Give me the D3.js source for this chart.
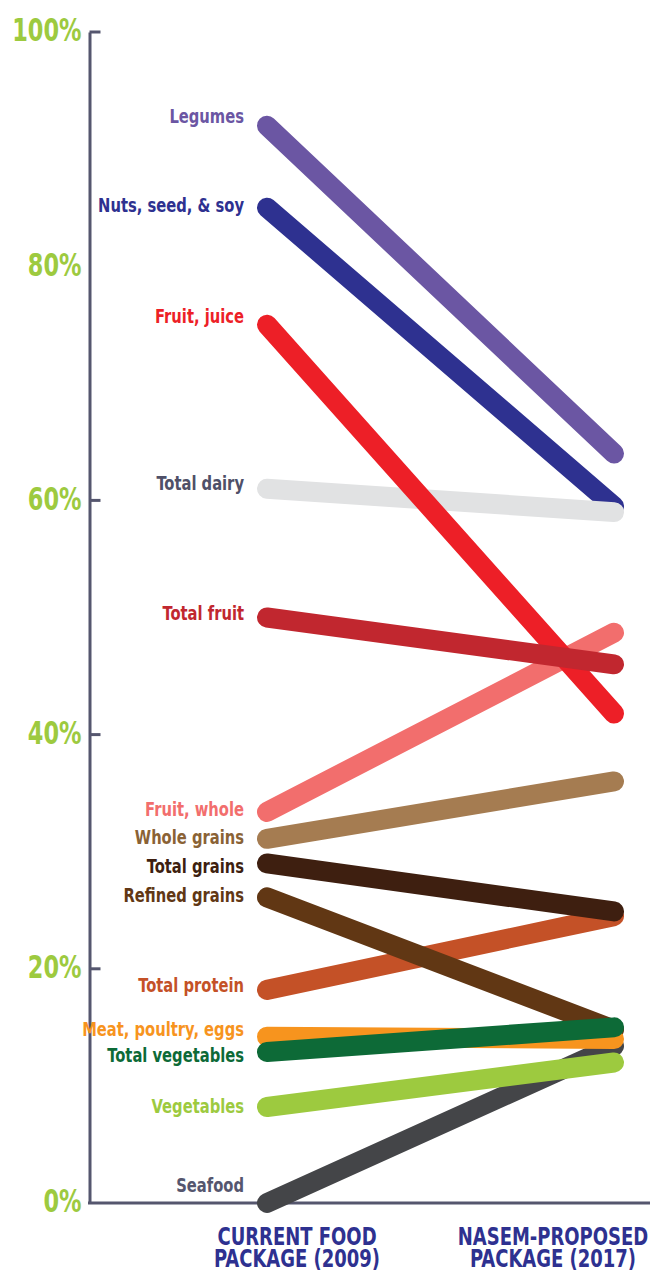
<!DOCTYPE html>
<html><head><meta charset="utf-8">
<script src="https://cdn.jsdelivr.net/npm/d3@7"></script>
<style>
html,body{margin:0;padding:0;background:#fff;}
svg{display:block;}
text{font-family:"Liberation Sans Narrow","DejaVu Sans Condensed","Arial Narrow",sans-serif;font-weight:bold;font-stretch:condensed;}
</style></head>
<body>
<svg id="chart" width="655" height="1270"></svg>
<script>
// ---- data ----
const periods = ["CURRENT FOOD PACKAGE (2009)", "NASEM-PROPOSED PACKAGE (2017)"];
const periodLines = [["CURRENT FOOD", "PACKAGE (2009)"], ["NASEM-PROPOSED", "PACKAGE (2017)"]];
const categories = ["Legumes","Nuts, seed, & soy","Total dairy","Fruit, whole","Fruit, juice","Total fruit","Whole grains","Total protein","Total grains","Refined grains","Seafood","Meat, poultry, eggs","Vegetables","Total vegetables"];
const values2009 = [92, 85, 61, 33.4, 75, 50, 31.1, 18.2, 29, 26.1, 0, 14.2, 8.2, 12.9];
const values2017 = [64, 59.5, 59, 48.7, 41.8, 46, 36, 24.5, 24.9, 14.8, 13.4, 14, 12, 15];
const yTicks = [0, 20, 40, 60, 80, 100];
const tickMarks = [100, 60, 40, 20];

// ---- styles ----
const lineColors = ["#6b56a3","#2e3190","#e1e2e3","#f26e6d","#ed1f27","#c1272f","#a57c51","#c45127","#3e1f10","#613714","#444548","#f7941e","#9dca3f","#0d6a37"];
const labelColors = ["#6b56a3","#2e3190","#4f5068","#f26e6d","#ed1f27","#c1272f","#8a6235","#c45127","#3e1f10","#613714","#55566e","#f7941e","#9dca3f","#0d6a37"];
const labelDy = [-3, 4, 1, 4, -2, 2, 5, 2, 10, 5, -11, -1, 6, 10];
const periodDx = [30, -61];
const labelSX = 0.82, tickSX = 0.78, periodSX = 0.8;

const svg = d3.select("#chart");
const y = d3.scaleLinear().domain([0, 100]).range([1203, 32]);
const x = d3.scalePoint().domain(periods).range([267, 614]);
const axisX = 89.5;
const axisColor = "#55566e";

// y axis
const yAxis = svg.append("g").attr("transform", `translate(${axisX},0)`)
  .call(d3.axisLeft(y).tickValues(yTicks).tickSize(0).tickSizeOuter(0).tickPadding(8).tickFormat(d => d + "%"));
yAxis.select(".domain").attr("stroke", axisColor).attr("stroke-width", 3);
yAxis.selectAll(".tick text")
  .attr("fill", "#9dca3f").attr("font-size", 32)
  .attr("x", 0).attr("dy", "0.28em")
  .attr("transform", `translate(-8,0) scale(${tickSX},1)`);

// tick marks
svg.append("g").selectAll("line").data(tickMarks).join("line")
  .attr("x1", axisX).attr("x2", axisX + 11)
  .attr("y1", d => y(d)).attr("y2", d => y(d))
  .attr("stroke", axisColor).attr("stroke-width", 3);

// baseline
svg.append("line").attr("x1", axisX - 1.5).attr("x2", 650)
  .attr("y1", y(0)).attr("y2", y(0))
  .attr("stroke", axisColor).attr("stroke-width", 3);

// slope lines
const rows = categories.map((c, i) => ({c, i, a: values2009[i], b: values2017[i]}));
svg.append("g").selectAll("line").data(rows).join("line")
  .attr("x1", x(periods[0])).attr("x2", x(periods[1]))
  .attr("y1", d => y(d.a)).attr("y2", d => y(d.b))
  .attr("stroke", d => lineColors[d.i])
  .attr("stroke-width", 20)
  .attr("stroke-linecap", "round");

// labels
svg.append("g").selectAll("text").data(rows).join("text")
  .attr("transform", d => `translate(244,${y(d.a) + labelDy[d.i]}) scale(${labelSX},1)`)
  .attr("text-anchor", "end")
  .attr("font-size", 20)
  .attr("fill", d => labelColors[d.i])
  .text(d => d.c);

// period labels
periods.forEach((p, i) => {
  periodLines[i].forEach((l, j) => {
    svg.append("text")
      .attr("transform", `translate(${x(p) + periodDx[i]},${1245 + j * 21.5}) scale(${periodSX},1)`)
      .attr("text-anchor", "middle").attr("fill", "#2e3190").attr("font-size", 25)
      .text(l);
  });
});
</script>
</body></html>
